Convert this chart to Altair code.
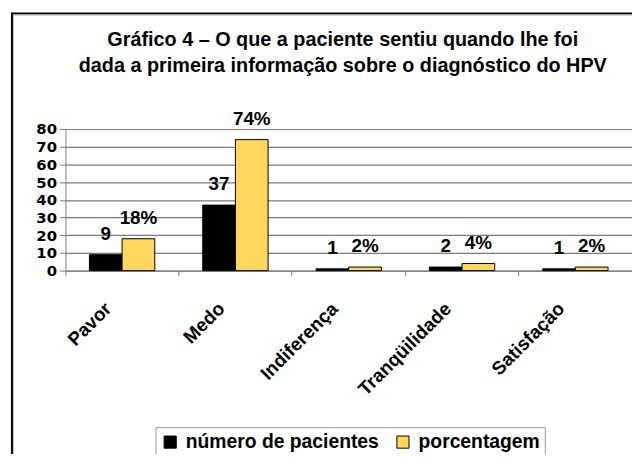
import altair as alt
import pandas as pd

categories = ["Pavor", "Medo", "Indiferença", "Tranqüilidade", "Satisfação"]
pacientes = [9, 37, 1, 2, 1]
porcentagem = [18, 74, 2, 4, 2]
series = ["número de pacientes", "porcentagem"]
colors = ["#000000", "#FFD75E"]
y_ticks = [0, 10, 20, 30, 40, 50, 60, 70, 80]
title_lines = [
    "Gráfico 4 – O que a paciente sentiu quando lhe foi",
    "dada a primeira informação sobre o diagnóstico do HPV",
]

rows = []
for c, n, p in zip(categories, pacientes, porcentagem):
    rows.append({"cat": c, "serie": series[0], "valor": n, "rotulo": f"{n}"})
    rows.append({"cat": c, "serie": series[1], "valor": p, "rotulo": f"{p}%"})
df = pd.DataFrame(rows)

FONT = "Liberation Sans"
W, H = 572, 143
GRAY = "#7a7a7a"

x = alt.X(
    "cat:N", sort=categories, title=None,
    scale=alt.Scale(paddingInner=0, paddingOuter=0),
    axis=alt.Axis(
        bandPosition=0, labelAngle=-45, labelAlign="right", labelBaseline="middle",
        labelOffset=-14, labelPadding=30, labelFontSize=19, labelFontWeight="bold",
        labelFont=FONT, labelColor="black", tickSize=5, tickColor=GRAY,
        domainColor=GRAY, grid=False, labelOverlap=False,
    ),
)
xo = alt.XOffset("serie:N", sort=series,
                 scale=alt.Scale(paddingOuter=0.733, paddingInner=0))
y = alt.Y(
    "valor:Q", title=None, scale=alt.Scale(domain=[0, 80], nice=False),
    axis=alt.Axis(
        values=y_ticks, labelFontSize=15, labelFontWeight="bold", labelFont="DejaVu Sans",
        labelColor="black", tickSize=6, tickColor=GRAY, domainColor=GRAY,
        gridColor=GRAY, gridWidth=1.2, labelPadding=3, labelOverlap=False,
        labelFlush=False,
    ),
)
color = alt.Color(
    "serie:N", sort=series, scale=alt.Scale(domain=series, range=colors),
    legend=alt.Legend(
        title=None, orient="none", legendX=91, legendY=301, direction="horizontal",
        symbolType="square", symbolSize=150, symbolStrokeColor="black",
        symbolStrokeWidth=1, labelFontSize=19.5, labelFontWeight="bold",
        labelFont=FONT, labelColor="black", labelOffset=6, columnPadding=14,
        padding=5, strokeColor="#999999", fillColor="white", labelLimit=400,
    ),
)

base = alt.Chart(df)
bars = base.mark_bar(stroke="black", strokeWidth=1).encode(x=x, xOffset=xo, y=y, color=color)
labels = base.mark_text(
    fontSize=19, fontWeight="bold", font=FONT, baseline="alphabetic", dy=-15, color="black"
).encode(x=x, xOffset=xo, y=y, text="rotulo:N")

one = pd.DataFrame({"k": [0]})
title_mark = alt.Chart(one).mark_text(
    fontSize=20, fontWeight="bold", font=FONT, baseline="alphabetic", align="center",
    lineBreak="\n", lineHeight=26, color="black",
).encode(x=alt.value(280), y=alt.value(-84), text=alt.value("\n".join(title_lines)))

frame_top = alt.Chart(one).mark_rule(color="black", strokeWidth=2).encode(
    x=alt.value(-54), x2=alt.value(W + 10), y=alt.value(-116.5))
frame_top_sh = alt.Chart(one).mark_rule(color="#bbbbbb", strokeWidth=1).encode(
    x=alt.value(-53), x2=alt.value(W + 10), y=alt.value(-115))
frame_left = alt.Chart(one).mark_rule(color="black", strokeWidth=2).encode(
    x=alt.value(-54), y=alt.value(-117.5), y2=alt.value(H + 200))
frame_left_sh = alt.Chart(one).mark_rule(color="#bbbbbb", strokeWidth=1).encode(
    x=alt.value(-52.5), y=alt.value(-115), y2=alt.value(H + 200))

chart = alt.layer(
    frame_top, frame_top_sh, frame_left, frame_left_sh, title_mark, bars, labels
).properties(
    width=W, height=H,
    autosize=alt.AutoSizeParams(type="none"),
    padding={"left": 58, "top": 120, "right": 0, "bottom": 183},
    background="white",
).configure_view(strokeWidth=0)

chart.save("out.html", embed_options={"renderer": "svg", "actions": False})
